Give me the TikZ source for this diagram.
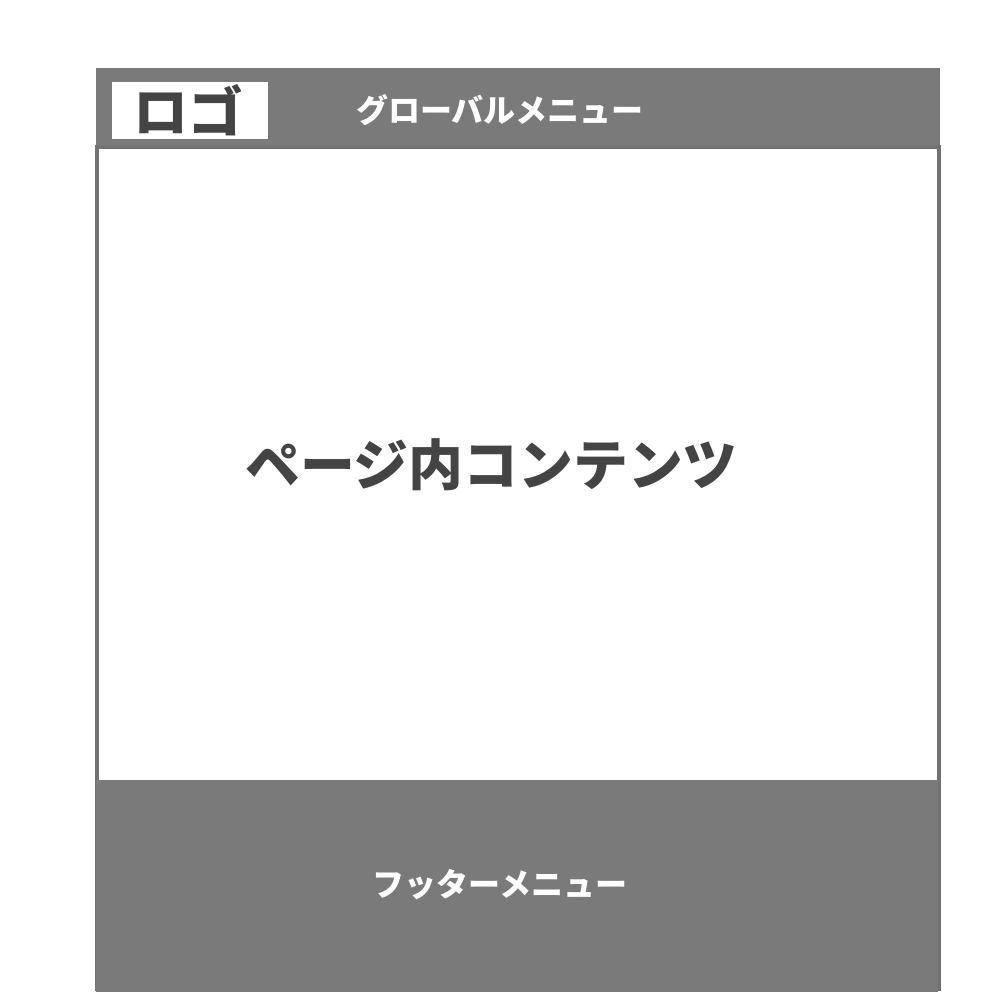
\documentclass[tikz,border=0pt]{standalone}
\usepackage{fontspec}
\setmainfont{Noto Sans CJK JP}
\usetikzlibrary{positioning}
\definecolor{bargray}{HTML}{7A7A7A}
\definecolor{linegray}{HTML}{727272}
\definecolor{inkgray}{HTML}{444444}
\tikzset{
  bar1/.style = {
    shape = rectangle,
    fill = bargray,
    draw = none,
    inner sep = 0pt,
    anchor = north west,
  }
}
\tikzset{
  label1/.style = {
    text = white,
    font = \fontsize{9.1pt}{9.1pt}\selectfont\bfseries,
    inner sep = 0pt,
  }
}
\tikzset{
  label2/.style = {
    text = inkgray,
    font = \fontsize{15.6pt}{15.6pt}\selectfont\bfseries,
    inner sep = 0pt,
  }
}

\begin{document}
\begin{tikzpicture}[x=0.01cm, y=-0.01cm]
        \useasboundingbox (0,0) rectangle (1000,1000);
        \node[bar1, minimum width=8.44cm, minimum height=0.8cm](header) at (95,67) {};
        \draw[linegray, line width=0.04cm](97,147) rectangle (939,989);
        \node[bar1, minimum width=8.42cm, minimum height=2.12cm](footer) at (95,779) {};
        \node[fill=white, inner sep=0pt, minimum width=1.56cm, minimum height=0.57cm](logobox) at (190,110.5) {};
        \node[label2](logo) at (188,110) {ロゴ};
        \node[label1](gmenu) at (500,110) {グローバルメニュー};
        \node[label2](content) at (491.5,465) {ページ内コンテンツ};
        \node[label1](fmenu) at (500,885) {フッターメニュー};
    \end{tikzpicture}
\end{document}
